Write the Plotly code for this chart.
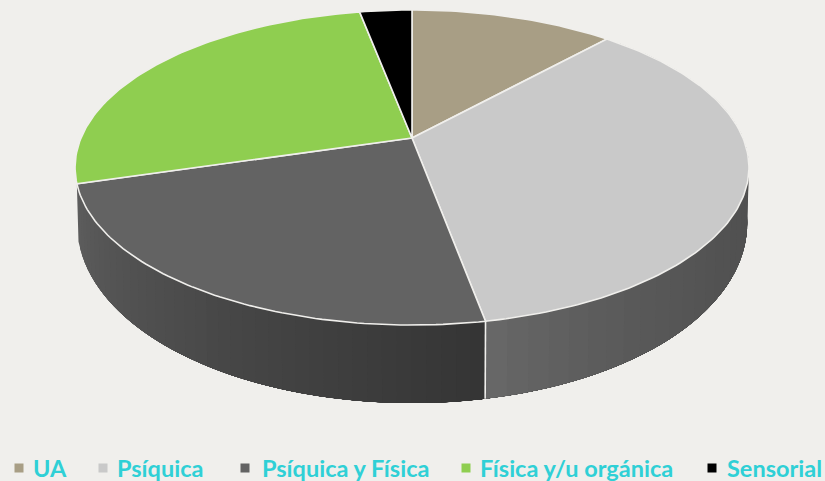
import math
import plotly.graph_objects as go

categories = ["UA", "Psíquica", "Psíquica y Física", "Física y/u orgánica", "Sensorial"]
values = [11.7, 35.4, 23.3, 26.6, 3.0]
colors = ["#a89e85", "#c9c9c9", "#636363", "#8fce50", "#000000"]

BG = "#f0efec"
TEXT = "#2fd0d6"
APEX = (412.0, 138.0)
A, B, K = 331.0, 152.0, 0.1873   # perspective projection of the disc
LEG_MARK_X = [19, 103, 245, 466, 712]
LEG_TEXT_X = [33, 117, 262, 480, 727]
LEG_Y = 468


def rim(theta):
    u, v = math.sin(theta), math.cos(theta)
    w = 1 + K * v
    return APEX[0] + A * u / w, APEX[1] - B * v / w


def base(theta):
    x, y = rim(theta)
    v = math.cos(theta)
    return APEX[0] + (x - APEX[0]) * 0.995, y + 50 - 28 * v


def grey_col(g):
    g = round(g)
    return f"rgb({g},{g},{g})"


total = sum(values)
edges = [0.0]
for val in values:
    edges.append(edges[-1] + val / total * 2 * math.pi)

fig = go.Figure()


def poly(xs, ys, fill, line=None, width=0.0):
    fig.add_trace(go.Scatter(x=xs, y=ys, mode="lines", fill="toself", fillcolor=fill,
                             line=dict(color=line or fill, width=width),
                             hoverinfo="skip", showlegend=False))


# side wall, painted in overlapping bands so that no seams show
n = 40
for i in range(n):          # wall of the light slice
    a = edges[1] + (edges[2] - edges[1]) * i / n
    f = (i + .5) / n
    samples = [a + (edges[2] - a) * j / 20 for j in range(21)]
    p = [rim(s) for s in samples] + [base(s) for s in reversed(samples)]
    p.append(p[0])
    poly([q[0] for q in p], [q[1] for q in p], grey_col(78 + 26 * f ** 4))
for i in range(n):          # wall of the dark slice
    b = edges[3] - (edges[3] - edges[2]) * i / n
    f = (i + .5) / n
    samples = [edges[2] + (b - edges[2]) * j / 20 for j in range(21)]
    p = [rim(s) for s in samples] + [base(s) for s in reversed(samples)]
    p.append(p[0])
    poly([q[0] for q in p], [q[1] for q in p], grey_col(94 - 42 * f))

# divider on the front of the wall
d0, d1 = rim(edges[2]), base(edges[2])
fig.add_trace(go.Scatter(x=[d0[0], d1[0]], y=[d0[1], d1[1]], mode="lines",
                         line=dict(color=BG, width=1.6), hoverinfo="skip", showlegend=False))

# top face
for i, cat in enumerate(categories):
    t0, t1 = edges[i], edges[i + 1]
    m = max(4, int((t1 - t0) / math.radians(1)))
    pts = [rim(t0 + (t1 - t0) * j / m) for j in range(m + 1)]
    xs = [APEX[0]] + [q[0] for q in pts] + [APEX[0]]
    ys = [APEX[1]] + [q[1] for q in pts] + [APEX[1]]
    poly(xs, ys, colors[i], line=BG, width=1.6)

# legend
fig.add_trace(go.Scatter(x=LEG_MARK_X, y=[LEG_Y] * 5, mode="markers",
                         marker=dict(symbol="square", size=9, color=colors),
                         text=categories, hoverinfo="text", showlegend=False))
annotations = [dict(x=x, y=LEG_Y, text=f"<b>{c}</b>", xref="x", yref="y", xanchor="left",
                    yanchor="middle", showarrow=False, xshift=-2,
                    font=dict(family="Lato", size=23.5, color=TEXT))
               for x, c in zip(LEG_TEXT_X, categories)]

fig.update_layout(
    width=825, height=481, margin=dict(l=0, r=0, t=0, b=0),
    paper_bgcolor=BG, plot_bgcolor=BG, annotations=annotations,
    xaxis=dict(range=[0, 825], visible=False, fixedrange=True),
    yaxis=dict(range=[481, 0], visible=False, fixedrange=True),
)
fig.write_html("out.html", config=dict(displayModeBar=False),
               post_script=f"document.body.style.margin='0';document.body.style.background='{BG}';document.body.style.overflow='hidden';")
